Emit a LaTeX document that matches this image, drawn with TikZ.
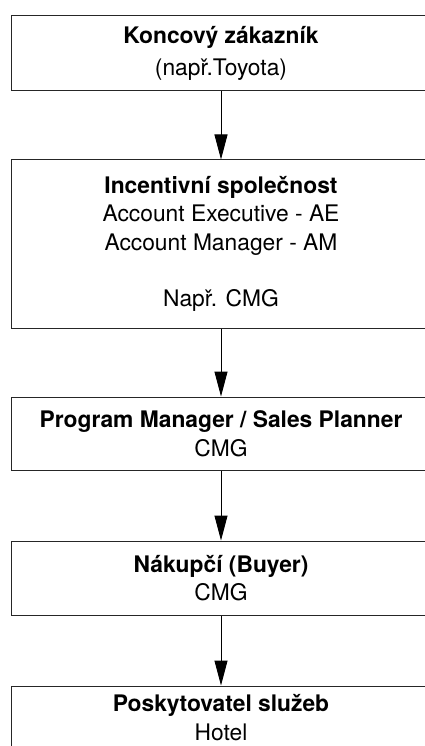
\documentclass[tikz,border=0pt]{standalone}
\usepackage{fontspec}
\setmainfont{TeX Gyre Heros}
\usetikzlibrary{positioning, arrows.meta}

\begin{document}
\begin{tikzpicture}[x=1pt, y=1pt,
    box/.style={draw=black!85, line width=1pt, minimum width=420pt,
      align=center, inner sep=0pt, font=\fontsize{22.8}{28.4}\selectfont},
    lift/.style={execute at begin node={\rule{0pt}{#1}}},
    flow/.style={-{Triangle[length=25pt, width=13pt]}, line width=1pt}]%
  \useasboundingbox (0, 0) rectangle (425, -746);
  % boxes, top to bottom
  \node[box, lift=29.5pt, minimum height=75pt] (zakaznik) at (221, -53.5)
    {\textbf{Koncový zákazník}\\[3.3pt](např.Toyota)};
  \node[box, lift=41pt, minimum height=168pt, below=68pt of zakaznik] (incentiv)
    {\textbf{Incentivní společnost}\\Account Executive - AE\\Account Manager - AM\\[28.4pt]Např. CMG};
  \node[box, lift=23pt, minimum height=73.3pt, below=68pt of incentiv] (program)
    {\textbf{Program Manager / Sales Planner}\\CMG};
  \node[box, lift=20pt, minimum height=74pt, below=69.7pt of program] (nakupci)
    {\textbf{Nákupčí (Buyer)}\\CMG};
  \node[box, minimum height=63pt, below=70pt of nakupci] (hotel)
    {\textbf{Poskytovatel služeb}\\Hotel};
  % arrows
  \draw[flow] (zakaznik) -- (incentiv);
  \draw[flow] (incentiv) -- (program);
  \draw[flow] (program) -- (nakupci);
  \draw[flow] (nakupci) -- (hotel);
\end{tikzpicture}
\end{document}
